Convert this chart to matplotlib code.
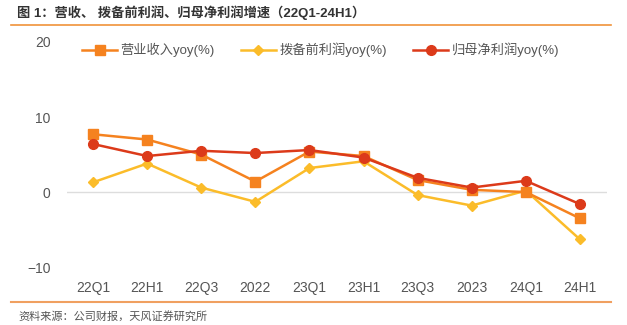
import matplotlib
matplotlib.use("Agg")
import matplotlib.pyplot as plt
from matplotlib.lines import Line2D

plt.rcParams['font.family'] = ['Liberation Sans', 'Noto Sans CJK SC', 'DejaVu Sans']

categories = ["22Q1", "22H1", "22Q3", "2022", "23Q1", "23H1", "23Q3", "2023", "24Q1", "24H1"]
revenue = [7.7, 7.0, 5.0, 1.4, 5.4, 4.8, 1.6, 0.3, 0.0, -3.5]
ppop = [1.3, 3.8, 0.6, -1.3, 3.2, 4.1, -0.4, -1.8, 0.2, -6.3]
net_profit = [6.4, 4.8, 5.5, 5.2, 5.6, 4.6, 1.9, 0.6, 1.5, -1.6]
series_names = ["营业收入yoy(%)", "拨备前利润yoy(%)", "归母净利润yoy(%)"]
yticks = [-10, 0, 10, 20]
title = "图 1：营收、 拨备前利润、归母净利润增速（22Q1-24H1）"
source = "资料来源：公司财报，天风证券研究所"

c_orange = "#F5821F"
c_yellow = "#FBBC2A"
c_red = "#DC3A1A"
text_c = "#555555"

fig = plt.figure(figsize=(6.27, 3.25), dpi=100)
ax = fig.add_axes([0.107, 0.178, 0.861, 0.693])
x = list(range(len(categories)))

ax.plot(x, revenue, color=c_orange, marker="s", markersize=7, lw=1.8, zorder=3, label=series_names[0])
ax.plot(x, ppop, color=c_yellow, marker="D", markersize=5.5, lw=1.8, zorder=2, label=series_names[1])
ax.plot(x, net_profit, color=c_red, marker="o", markersize=7, lw=1.8, zorder=4, label=series_names[2])

ax.axhline(0, color="#DDDDDD", lw=1, zorder=1)
ax.set_ylim(-10, 20)
ax.set_xlim(-0.48, 9.5)
ax.set_yticks(yticks)
ax.set_xticks(x)
ax.set_xticklabels(categories)
ax.tick_params(axis="both", length=0, labelsize=10, colors=text_c)
ax.tick_params(axis="y", pad=12)
ax.tick_params(axis="x", pad=10)
for s in ax.spines.values():
    s.set_visible(False)

leg = ax.legend(loc="upper center", bbox_to_anchor=(0.47, 1.05), ncol=3, frameon=False,
                fontsize=9.5, handlelength=2.6, columnspacing=2.0, handletextpad=0.3)
for t in leg.get_texts():
    t.set_color(text_c)

fig.text(0.027, 0.962, title, fontsize=9.5, color="#333333", fontweight="bold", va="center")
fig.add_artist(Line2D([0.018, 0.975], [0.922, 0.922], color="#F0923A", lw=1.2))
fig.add_artist(Line2D([0.018, 0.975], [0.071, 0.071], color="#F0A060", lw=1.5))
fig.text(0.030, 0.028, source, fontsize=8, color=text_c, va="center")

fig.savefig("out.png", dpi=100)
